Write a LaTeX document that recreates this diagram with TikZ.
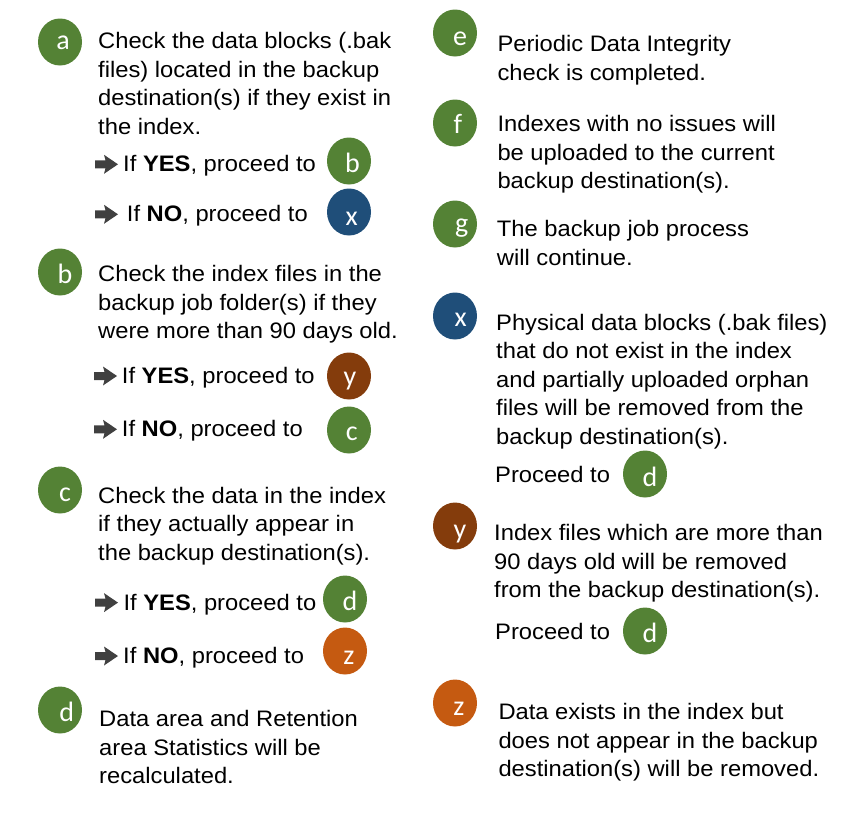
\documentclass[tikz,border=0pt]{standalone}
\usepackage{fontspec}
\setmainfont{Liberation Sans}
\newfontfamily\bodyfont[FakeStretch=1.06]{Liberation Sans}
\newfontfamily\badgefont{Carlito}
\usetikzlibrary{shapes.geometric,calc}
\definecolor{cgreen}{HTML}{548235}
\definecolor{cblue}{HTML}{1F4E79}
\definecolor{cbrown}{HTML}{843C0C}
\definecolor{corange}{HTML}{C55A11}
\definecolor{arrowgray}{HTML}{404040}
\tikzset{
  badge/.style={ellipse, minimum width=44pt, minimum height=47pt, inner sep=0pt, draw=none},
  badgeletter/.style={font=\badgefont\fontsize{28}{30}\selectfont, text=white, inner sep=0pt, anchor=base},
  body/.style={font=\bodyfont\fontsize{22.4}{28.6}\selectfont, align=left, inner sep=0pt, anchor=base west},
  harrow/.pic={\fill[arrowgray] (0,-4) -- (10.5,-4) -- (9,-9.5) -- (23,0) -- (9,9.5) -- (10.5,4) -- (0,4) -- cycle;}
}
\newcommand\badge[7]{%
  \node[badge, fill=#4] (#1) at (#2,#3) {};
  \node[badgeletter] (#1-t) at ($(#1.center)+(#6,#7)$) {#5};}
\begin{document}
\begin{tikzpicture}[x=1pt,y=-1pt]
\useasboundingbox (0,0) rectangle (858,819);
% badges
\badge{a}{60}{42}{cgreen}{a}{3}{7}
\badge{ab}{349}{161}{cgreen}{b}{3.5}{11.7}
\badge{ax}{349}{212}{cblue}{x}{2.7}{13}
\badge{b}{60}{272}{cgreen}{b}{5}{11.5}
\badge{by}{349}{376}{cbrown}{y}{1}{9}
\badge{bc}{349}{430}{cgreen}{c}{2.7}{10}
\badge{c}{60}{490}{cgreen}{c}{5}{11.7}
\badge{cd}{345}{599}{cgreen}{d}{5}{11}
\badge{cz}{345}{651}{corange}{z}{4}{13}
\badge{d}{60}{710}{cgreen}{d}{6.7}{11.7}
\badge{e}{455}{33}{cgreen}{e}{5}{12}
\badge{f}{455}{123}{cgreen}{f}{3}{10}
\badge{g}{455}{224}{cgreen}{g}{6.7}{8}
\badge{x}{455}{316}{cblue}{x}{5.7}{10.7}
\badge{xd}{645}{474}{cgreen}{d}{5}{12.7}
\badge{y}{455}{526}{cbrown}{y}{5}{12}
\badge{yd}{645}{631}{cgreen}{d}{5}{11.7}
\badge{z}{455}{703}{corange}{z}{4}{12}
% left column texts (base = baseline of the last line)
\node[body] (ta) at (98,134.3) {Check the data blocks (.bak\\files) located in the backup\\destination(s) if they exist in\\the index.};
\pic (arA1) at (95,164.3) {harrow};
\node[body] (ta1) at (123,171.7) {If \textbf{YES}, proceed to};
\pic (arA2) at (95,214.3) {harrow};
\node[body] (ta2) at (126.7,221.7) {If \textbf{NO}, proceed to};
\node[body] (tb) at (98,338.6) {Check the index files in the\\backup job folder(s) if they\\were more than 90 days old.};
\pic (arB1) at (94,376) {harrow};
\node[body] (tb1) at (121.7,383.3) {If \textbf{YES}, proceed to};
\pic (arB2) at (94,429.3) {harrow};
\node[body] (tb2) at (121.7,436.7) {If \textbf{NO}, proceed to};
\node[body] (tc) at (98,560.3) {Check the data in the index\\if they actually appear in\\the backup destination(s).};
\pic (arC1) at (95,602.6) {harrow};
\node[body] (tc1) at (123.3,610) {If \textbf{YES}, proceed to};
\pic (arC2) at (95,656) {harrow};
\node[body] (tc2) at (123,663.3) {If \textbf{NO}, proceed to};
\node[body] (td) at (99,783.6) {Data area and Retention\\area Statistics will be\\recalculated.};
% right column texts
\node[body] (te) at (497.3,80.2) {Periodic Data Integrity\\check is completed.};
\node[body] (tf) at (497.3,188.6) {Indexes with no issues will\\be uploaded to the current\\backup destination(s).};
\node[body] (tg) at (496.7,265.2) {The backup job process\\will continue.};
\node[body] (tx) at (496,444.4) {Physical data blocks (.bak files)\\that do not exist in the index\\and partially uploaded orphan\\files will be removed from the\\backup destination(s).};
\node[body] (tx1) at (495,482.7) {Proceed to};
\node[body] (ty) at (494,597.6) {Index files which are more than\\90 days old will be removed\\from the backup destination(s).};
\node[body] (ty1) at (495,639.3) {Proceed to};
\node[body] (tz) at (498.3,776.9) {Data exists in the index but\\does not appear in the backup\\destination(s) will be removed.};
\end{tikzpicture}
\end{document}
